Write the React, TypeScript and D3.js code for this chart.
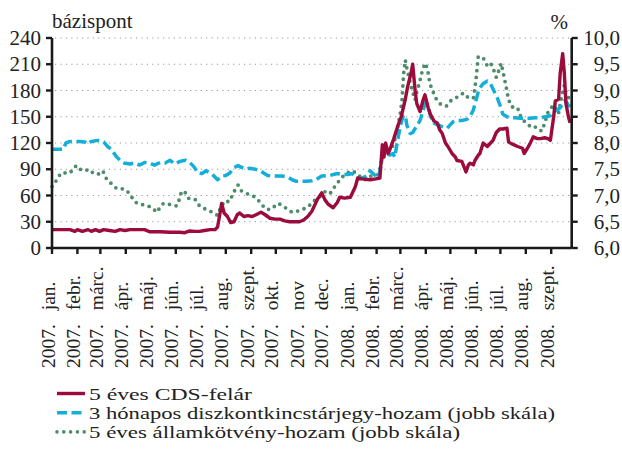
import React from 'react';
import * as d3 from 'd3';

// ---- data ----
const cdsSpread: [string, number][] = [
  ['2007-01-01', 21], ['2007-01-10', 21], ['2007-01-23', 21], ['2007-01-29', 19], ['2007-02-01', 21],
  ['2007-02-07', 19], ['2007-02-14', 21], ['2007-02-18', 19], ['2007-02-23', 21], ['2007-02-28', 19],
  ['2007-03-05', 21], ['2007-03-12', 20], ['2007-03-19', 19], ['2007-03-25', 21], ['2007-03-31', 20],
  ['2007-04-06', 21], ['2007-04-18', 21], ['2007-04-24', 21], ['2007-04-30', 18.5], ['2007-05-13', 18.5],
  ['2007-05-25', 18], ['2007-06-06', 18], ['2007-06-12', 17.5], ['2007-06-18', 19.5], ['2007-06-24', 19],
  ['2007-06-30', 19], ['2007-07-06', 20], ['2007-07-13', 21], ['2007-07-19', 21], ['2007-07-22', 24],
  ['2007-07-25', 40], ['2007-07-27', 51], ['2007-07-30', 40], ['2007-08-03', 36], ['2007-08-07', 29],
  ['2007-08-11', 30], ['2007-08-15', 38], ['2007-08-18', 40], ['2007-08-23', 36], ['2007-08-28', 37],
  ['2007-09-02', 36], ['2007-09-07', 38], ['2007-09-13', 41], ['2007-09-18', 38], ['2007-09-24', 34],
  ['2007-09-30', 33], ['2007-10-06', 33], ['2007-10-12', 31], ['2007-10-18', 30], ['2007-10-24', 30],
  ['2007-10-30', 30], ['2007-11-04', 32], ['2007-11-09', 36], ['2007-11-14', 42], ['2007-11-18', 50],
  ['2007-11-21', 56], ['2007-11-26', 63], ['2007-11-30', 55], ['2007-12-04', 50], ['2007-12-10', 46],
  ['2007-12-15', 52], ['2007-12-18', 58], ['2007-12-24', 57], ['2007-12-31', 58], ['2008-01-06', 70],
  ['2008-01-09', 80], ['2008-01-14', 79], ['2008-01-24', 78], ['2008-01-31', 79], ['2008-02-05', 80],
  ['2008-02-08', 118], ['2008-02-10', 104], ['2008-02-12', 120], ['2008-02-15', 108], ['2008-02-17', 112],
  ['2008-02-22', 125], ['2008-02-27', 140], ['2008-03-02', 150], ['2008-03-07', 170], ['2008-03-10', 185],
  ['2008-03-14', 200], ['2008-03-16', 210], ['2008-03-19', 180], ['2008-03-21', 165], ['2008-03-25', 156],
  ['2008-03-29', 170], ['2008-03-31', 175], ['2008-04-04', 160], ['2008-04-06', 154], ['2008-04-11', 145],
  ['2008-04-15', 143], ['2008-04-18', 135], ['2008-04-21', 131], ['2008-04-25', 120], ['2008-04-28', 116],
  ['2008-05-03', 108], ['2008-05-07', 104], ['2008-05-09', 100], ['2008-05-15', 99], ['2008-05-20', 87],
  ['2008-05-23', 95], ['2008-05-25', 97], ['2008-05-29', 95], ['2008-05-31', 100], ['2008-06-04', 106],
  ['2008-06-06', 108], ['2008-06-10', 120], ['2008-06-15', 116], ['2008-06-19', 120], ['2008-06-22', 123],
  ['2008-06-26', 132], ['2008-06-30', 136], ['2008-07-04', 136], ['2008-07-09', 137], ['2008-07-11', 121],
  ['2008-07-15', 119], ['2008-07-22', 116], ['2008-07-28', 114], ['2008-07-30', 108], ['2008-08-03', 114],
  ['2008-08-06', 119], ['2008-08-10', 127], ['2008-08-15', 125], ['2008-08-19', 125], ['2008-08-24', 126],
  ['2008-08-28', 125], ['2008-08-31', 123], ['2008-09-04', 150], ['2008-09-06', 168], ['2008-09-10', 170],
  ['2008-09-12', 200], ['2008-09-15', 222], ['2008-09-17', 200], ['2008-09-19', 165], ['2008-09-22', 150],
  ['2008-09-24', 143],
];

const tbillYield: [string, number][] = [
  ['2007-01-01', 7.88], ['2007-01-15', 7.88], ['2007-01-18', 8.0], ['2007-01-23', 8.03], ['2007-02-04', 8.03],
  ['2007-02-10', 8.02], ['2007-02-14', 7.98], ['2007-02-18', 8.03], ['2007-02-26', 8.05], ['2007-03-05', 8.02],
  ['2007-03-10', 7.93], ['2007-03-15', 7.87], ['2007-03-20', 7.75], ['2007-03-25', 7.67], ['2007-03-30', 7.62],
  ['2007-04-06', 7.6], ['2007-04-12', 7.62], ['2007-04-18', 7.58], ['2007-04-24', 7.63], ['2007-04-30', 7.62],
  ['2007-05-06', 7.58], ['2007-05-13', 7.63], ['2007-05-19', 7.62], ['2007-05-25', 7.67], ['2007-05-31', 7.6],
  ['2007-06-06', 7.65], ['2007-06-13', 7.67], ['2007-06-18', 7.63], ['2007-06-23', 7.55], ['2007-06-28', 7.43],
  ['2007-07-03', 7.42], ['2007-07-08', 7.47], ['2007-07-13', 7.43], ['2007-07-17', 7.38], ['2007-07-22', 7.3],
  ['2007-07-27', 7.37], ['2007-08-01', 7.38], ['2007-08-06', 7.43], ['2007-08-11', 7.53], ['2007-08-16', 7.57],
  ['2007-08-21', 7.53], ['2007-08-26', 7.5], ['2007-08-30', 7.52], ['2007-09-06', 7.5], ['2007-09-12', 7.47],
  ['2007-09-17', 7.42], ['2007-09-21', 7.38], ['2007-09-26', 7.37], ['2007-10-04', 7.37], ['2007-10-08', 7.37],
  ['2007-10-16', 7.35], ['2007-10-21', 7.3], ['2007-10-26', 7.27], ['2007-10-30', 7.27], ['2007-11-07', 7.27],
  ['2007-11-14', 7.28], ['2007-11-19', 7.3], ['2007-11-26', 7.37], ['2007-12-06', 7.38], ['2007-12-15', 7.42],
  ['2007-12-21', 7.4], ['2007-12-28', 7.4], ['2008-01-02', 7.42], ['2008-01-08', 7.33], ['2008-01-14', 7.33],
  ['2008-01-20', 7.37], ['2008-01-24', 7.47], ['2008-01-29', 7.4], ['2008-02-03', 7.33], ['2008-02-05', 7.47],
  ['2008-02-09', 7.8], ['2008-02-12', 7.83], ['2008-02-17', 7.77], ['2008-02-21', 7.8], ['2008-02-23', 7.73],
  ['2008-02-27', 8.08], ['2008-03-01', 8.33], ['2008-03-04', 8.5], ['2008-03-07', 8.53], ['2008-03-09', 8.33],
  ['2008-03-13', 8.18], ['2008-03-16', 8.2], ['2008-03-20', 8.3], ['2008-03-25', 8.43], ['2008-03-29', 8.63],
  ['2008-03-31', 8.75], ['2008-04-04', 8.72], ['2008-04-07', 8.5], ['2008-04-11', 8.38], ['2008-04-15', 8.35],
  ['2008-04-18', 8.33], ['2008-04-23', 8.3], ['2008-04-27', 8.28], ['2008-05-01', 8.35], ['2008-05-04', 8.4],
  ['2008-05-09', 8.43], ['2008-05-15', 8.43], ['2008-05-21', 8.45], ['2008-05-25', 8.5], ['2008-05-29', 8.63],
  ['2008-06-01', 8.8], ['2008-06-05', 9.03], ['2008-06-10', 9.13], ['2008-06-15', 9.18], ['2008-06-19', 9.13],
  ['2008-06-22', 9.03], ['2008-06-27', 8.87], ['2008-07-01', 8.7], ['2008-07-04', 8.55], ['2008-07-09', 8.5],
  ['2008-07-13', 8.48], ['2008-07-19', 8.48], ['2008-07-25', 8.47], ['2008-07-31', 8.47], ['2008-08-06', 8.47],
  ['2008-08-13', 8.48], ['2008-08-19', 8.48], ['2008-08-25', 8.5], ['2008-08-31', 8.52], ['2008-09-04', 8.58],
  ['2008-09-07', 8.62], ['2008-09-12', 8.67], ['2008-09-16', 8.77], ['2008-09-18', 8.82], ['2008-09-22', 8.72],
  ['2008-09-26', 8.67],
];

const bondYield: [string, number][] = [
  ['2007-01-01', 7.17], ['2007-01-04', 7.23], ['2007-01-08', 7.33], ['2007-01-12', 7.43], ['2007-01-17', 7.43],
  ['2007-01-23', 7.43], ['2007-01-28', 7.53], ['2007-01-31', 7.57], ['2007-02-04', 7.5], ['2007-02-10', 7.47],
  ['2007-02-15', 7.5], ['2007-02-20', 7.43], ['2007-02-25', 7.4], ['2007-02-28', 7.42], ['2007-03-04', 7.47],
  ['2007-03-09', 7.3], ['2007-03-15', 7.22], ['2007-03-21', 7.13], ['2007-03-27', 7.13], ['2007-04-02', 7.1],
  ['2007-04-07', 7.0], ['2007-04-12', 6.88], ['2007-04-18', 6.83], ['2007-04-25', 6.82], ['2007-05-03', 6.77],
  ['2007-05-09', 6.68], ['2007-05-13', 6.78], ['2007-05-17', 6.85], ['2007-05-22', 6.83], ['2007-05-27', 6.83],
  ['2007-06-02', 6.8], ['2007-06-06', 6.95], ['2007-06-08', 7.08], ['2007-06-12', 7.07], ['2007-06-16', 6.95],
  ['2007-06-21', 6.92], ['2007-06-25', 6.92], ['2007-06-30', 6.8], ['2007-07-06', 6.75], ['2007-07-13', 6.7],
  ['2007-07-17', 6.67], ['2007-07-22', 6.62], ['2007-07-26', 6.78], ['2007-07-31', 6.9], ['2007-08-05', 6.88],
  ['2007-08-08', 6.97], ['2007-08-12', 7.1], ['2007-08-16', 7.2], ['2007-08-19', 7.1], ['2007-08-24', 7.05],
  ['2007-08-30', 7.02], ['2007-09-06', 6.97], ['2007-09-12', 6.87], ['2007-09-18', 6.75], ['2007-09-24', 6.73],
  ['2007-09-30', 6.8], ['2007-10-04', 6.85], ['2007-10-10', 6.8], ['2007-10-16', 6.73], ['2007-10-21', 6.68],
  ['2007-10-27', 6.7], ['2007-11-02', 6.73], ['2007-11-09', 6.78], ['2007-11-15', 6.87], ['2007-11-20', 6.95],
  ['2007-11-24', 6.98], ['2007-11-30', 7.07], ['2007-12-06', 7.03], ['2007-12-10', 7.13], ['2007-12-15', 7.23],
  ['2007-12-18', 7.3], ['2007-12-23', 7.38], ['2007-12-27', 7.43], ['2008-01-03', 7.47], ['2008-01-09', 7.4],
  ['2008-01-14', 7.33], ['2008-01-18', 7.3], ['2008-01-23', 7.37], ['2008-01-28', 7.37], ['2008-02-03', 7.4],
  ['2008-02-08', 7.72], ['2008-02-11', 7.8], ['2008-02-15', 7.87], ['2008-02-20', 7.92], ['2008-02-23', 8.05],
  ['2008-02-27', 8.32], ['2008-03-01', 8.58], ['2008-03-03', 8.82], ['2008-03-05', 9.33], ['2008-03-07', 9.58],
  ['2008-03-09', 9.42], ['2008-03-12', 9.22], ['2008-03-15', 9.02], ['2008-03-19', 8.82], ['2008-03-21', 8.97],
  ['2008-03-24', 9.13], ['2008-03-27', 9.33], ['2008-03-31', 9.52], ['2008-04-03', 9.42], ['2008-04-06', 9.13],
  ['2008-04-10', 8.97], ['2008-04-14', 8.83], ['2008-04-18', 8.75], ['2008-04-22', 8.72], ['2008-04-26', 8.7],
  ['2008-05-01', 8.8], ['2008-05-07', 8.85], ['2008-05-13', 8.92], ['2008-05-17', 8.95], ['2008-05-21', 8.88],
  ['2008-05-25', 8.87], ['2008-05-29', 8.85], ['2008-06-01', 9.17], ['2008-06-04', 9.65], ['2008-06-08', 9.63],
  ['2008-06-11', 9.6], ['2008-06-15', 9.47], ['2008-06-19', 9.52], ['2008-06-22', 9.43], ['2008-06-26', 9.25],
  ['2008-06-28', 9.33], ['2008-07-02', 9.52], ['2008-07-04', 9.37], ['2008-07-08', 9.07], ['2008-07-11', 8.83],
  ['2008-07-14', 8.7], ['2008-07-18', 8.67], ['2008-07-22', 8.67], ['2008-07-25', 8.53], ['2008-07-29', 8.43],
  ['2008-08-02', 8.38], ['2008-08-06', 8.32], ['2008-08-11', 8.33], ['2008-08-16', 8.25], ['2008-08-21', 8.23],
  ['2008-08-25', 8.43], ['2008-08-28', 8.58], ['2008-09-01', 8.67], ['2008-09-04', 8.73], ['2008-09-07', 8.63],
  ['2008-09-10', 8.57], ['2008-09-13', 8.83], ['2008-09-17', 9.1], ['2008-09-19', 8.97], ['2008-09-22', 8.87],
  ['2008-09-24', 8.77],
];

const leftTicks = [0, 30, 60, 90, 120, 150, 180, 210, 240];
const rightTicks = [6.0, 6.5, 7.0, 7.5, 8.0, 8.5, 9.0, 9.5, 10.0];

const monthStarts = [
  '2007-01-01', '2007-02-01', '2007-03-01', '2007-04-01', '2007-05-01', '2007-06-01', '2007-07-01',
  '2007-08-01', '2007-09-01', '2007-10-01', '2007-11-01', '2007-12-01', '2008-01-01', '2008-02-01',
  '2008-03-01', '2008-04-01', '2008-05-01', '2008-06-01', '2008-07-01', '2008-08-01', '2008-09-01',
];
const monthLabels = [
  '2007. jan.', '2007. febr.', '2007. márc.', '2007. ápr.', '2007. máj.', '2007. jún.', '2007. júl.',
  '2007. aug.', '2007. szept.', '2007. okt.', '2007. nov', '2007. dec.', '2008. jan.', '2008. febr.',
  '2008. márc.', '2008. ápr.', '2008. máj.', '2008. jún.', '2008. júl.', '2008. aug.', '2008. szept.',
];
const dateDomain = ['2007-01-01', '2008-09-26'];

const legendLabels = [
  '5 éves CDS-felár',
  '3 hónapos diszkontkincstárjegy-hozam (jobb skála)',
  '5 éves államkötvény-hozam (jobb skála)',
];

const RED = '#9b0b3b';
const BLUE = '#14afd8';
const GREEN = '#4b8c6b';
const FONT = "'Liberation Serif', 'DejaVu Serif', serif";

export default function App() {
  const W = 622;
  const H = 455;
  const x0 = 52;
  const x1 = 571.7;
  const yTop = 38;
  const yBot = 248;

  const parse = d3.timeParse('%Y-%m-%d');
  const x = d3.scaleTime().domain(dateDomain.map((d) => parse(d) as Date)).range([x0, x1]);
  const yL = d3.scaleLinear().domain([0, 240]).range([yBot, yTop]);
  const yR = d3.scaleLinear().domain([6, 10]).range([yBot, yTop]);

  const lineL = d3
    .line<[string, number]>()
    .x((d) => x(parse(d[0]) as Date))
    .y((d) => yL(d[1]));
  const lineR = d3
    .line<[string, number]>()
    .x((d) => x(parse(d[0]) as Date))
    .y((d) => yR(d[1]));

  const legendY = [393.5, 412.7, 431.9];
  const legendLen = [163, 466, 371];
  const fmtR = (v: number) => v.toFixed(1).replace('.', ',');
  const txt: React.CSSProperties = { fontFamily: FONT };

  return (
    <svg
      width={W}
      height={H}
      viewBox={`0 0 ${W} ${H}`}
      style={{ position: 'absolute', left: 0, top: 0, background: '#fff', fontFamily: FONT }}
    >
      <rect x={0} y={0} width={W} height={H} fill="#fff" />
      {/* grid */}
      {leftTicks.slice(1).map((t) => (
        <line
          key={'g' + t}
          x1={x0 + 3}
          x2={x1 - 2}
          y1={yL(t)}
          y2={yL(t)}
          stroke="#9a9a9a"
          strokeWidth={1.2}
          strokeDasharray="1.2 4.2"
        />
      ))}

      {/* series */}
      <path d={lineR(bondYield) || ''} fill="none" stroke={GREEN} strokeWidth={3.8} strokeDasharray="0 6.8" strokeLinecap="round" strokeLinejoin="round" />
      <path d={lineR(tbillYield) || ''} fill="none" stroke={BLUE} strokeWidth={3.5} strokeDasharray="10 4.5" strokeLinejoin="round" />
      <path d={lineL(cdsSpread) || ''} fill="none" stroke={RED} strokeWidth={3.4} strokeLinejoin="round" />

      {/* axes */}
      <line x1={x0} x2={x0} y1={yTop} y2={yBot} stroke="#1a1a1a" strokeWidth={2.6} />
      <line x1={x1} x2={x1} y1={yTop} y2={yBot} stroke="#1a1a1a" strokeWidth={2.6} />
      <line x1={x0} x2={x1} y1={yBot} y2={yBot} stroke="#1a1a1a" strokeWidth={2.6} />

      {leftTicks.map((t) => (
        <g key={'l' + t}>
          <line x1={x0 - 6} x2={x0} y1={yL(t)} y2={yL(t)} stroke="#1a1a1a" strokeWidth={2.4} />
          <text x={41} y={yL(t)} dy="0.34em" textAnchor="end" fontSize={21} fill="#222" style={txt}>
            {t}
          </text>
        </g>
      ))}
      {rightTicks.map((t) => (
        <g key={'r' + t}>
          <line x1={x1} x2={x1 + 6} y1={yR(t)} y2={yR(t)} stroke="#1a1a1a" strokeWidth={2.4} />
          <text x={620} y={yR(t)} dy="0.34em" textAnchor="end" fontSize={21} fill="#222" style={txt}>
            {fmtR(t)}
          </text>
        </g>
      ))}

      {monthStarts.map((m, i) => {
        const xp = x(parse(m) as Date);
        return (
          <g key={m}>
            <line x1={xp} x2={xp} y1={yBot} y2={yBot + 6} stroke="#1a1a1a" strokeWidth={2.4} />
            <text
              transform={`translate(${xp},368) rotate(-90)`}
              dy={2.5}
              textAnchor="start"
              fontSize={19.5}
              fill="#222"
              style={{ ...txt, wordSpacing: '9px' }}
            >
              {monthLabels[i]}
            </text>
          </g>
        );
      })}

      {/* unit labels */}
      <text x={52} y={28} fontSize={21} fill="#222" style={txt}>
        bázispont
      </text>
      <text x={568} y={29} fontSize={21} textAnchor="end" fill="#222" style={txt}>
        %
      </text>

      {/* legend */}
      <line x1={57} x2={85} y1={legendY[0]} y2={legendY[0]} stroke={RED} strokeWidth={3.4} />
      <line x1={57} x2={85} y1={legendY[1]} y2={legendY[1]} stroke={BLUE} strokeWidth={3.4} strokeDasharray="10 4.5" />
      <line x1={57} x2={86} y1={legendY[2]} y2={legendY[2]} stroke={GREEN} strokeWidth={3.6} strokeDasharray="0 6.8" strokeLinecap="round" />
      {legendLabels.map((l, i) => (
        <text
          key={l}
          x={89}
          y={legendY[i] + 6.5}
          fontSize={17.5}
          fill="#222"
          textLength={legendLen[i]}
          lengthAdjust="spacingAndGlyphs"
          style={txt}
        >
          {l}
        </text>
      ))}
    </svg>
  );
}
